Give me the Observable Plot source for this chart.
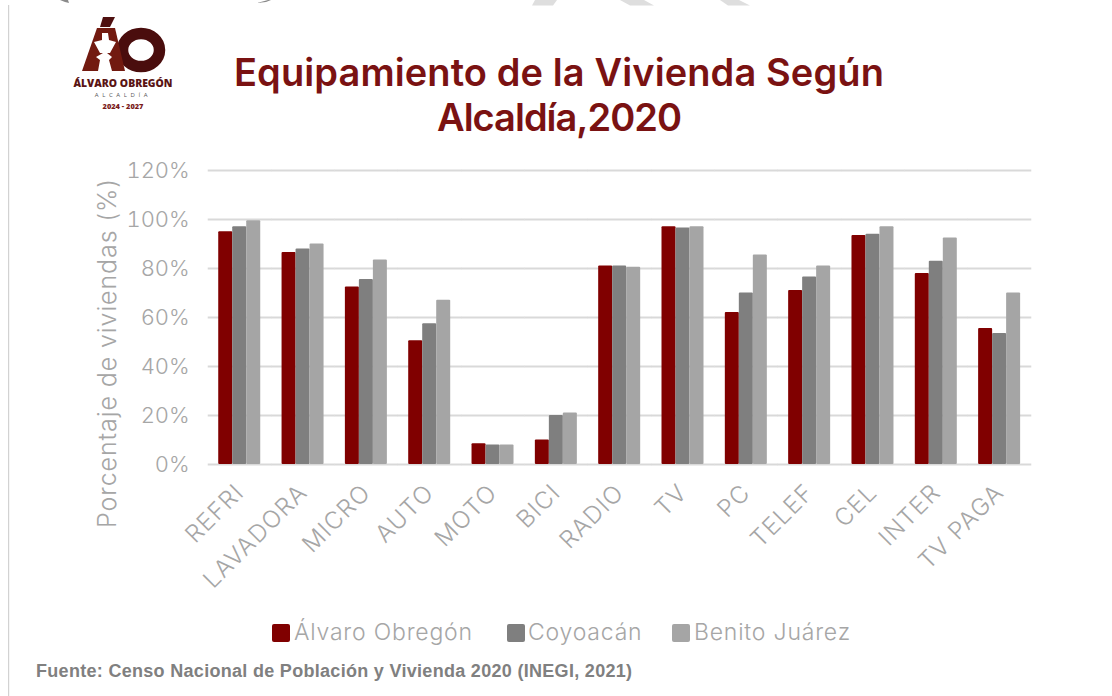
<!DOCTYPE html>
<html lang="es">
<head>
<meta charset="utf-8">
<script src="https://cdn.jsdelivr.net/npm/d3@7"></script>
<script src="https://cdn.jsdelivr.net/npm/@observablehq/plot@0.6"></script>
<style>
html,body{margin:0;padding:0;background:#fff;width:1112px;height:696px;overflow:hidden}
#page{position:relative;width:1112px;height:696px;font-family:Inter,"Open Sans",sans-serif}
#page>*{position:absolute}
#chart{left:0;top:0}
#deco{left:0;top:0}
.t{white-space:nowrap;line-height:1}
#title{left:159px;width:800px;top:50px;text-align:center;color:#7a1212;font-size:38px;font-weight:600;line-height:45px;letter-spacing:.1px}
#title span{letter-spacing:-1px}
#ylab{left:107px;top:353px;transform:translate(-50%,-50%) rotate(-90deg);font-size:25px;font-weight:300;color:#a6a6a6;letter-spacing:.9px}
.leg{color:#a6a6a6;font-size:23px;font-weight:300;top:621px;letter-spacing:.8px}
.sw{width:18px;height:18px;top:624px;border-radius:2px}
#src{left:36px;top:661px;font:bold 18px "Liberation Sans",Arial,sans-serif;color:#808080;letter-spacing:.3px}
.logo{left:123px;transform:translateX(-50%);font-family:"Open Sans",sans-serif;font-weight:800}
#chart g[aria-label="fx-axis tick label"] text{letter-spacing:1.2px}
</style>
</head>
<body>
<div id="page">
<div id="chart"></div>
<svg id="deco" width="1112" height="696" aria-hidden="true">
  <rect x="8" y="5" width="1.2" height="691" fill="#d2d2d2"/>
  <path d="M60 0h8l1 3-4-1zM257 3l11-3h3l-5 2z" fill="#8a8a8a"/>
  <path d="M535 0h22l-4 5.5h-21zM620 0h24l10 5.5h-24zM720 0h19l11 5.5h-22z" fill="#dedede"/>
  <ellipse cx="141" cy="50" rx="18.5" ry="16.5" fill="none" stroke="#4a0d0d" stroke-width="11.5"/>
  <path d="M100 27l3-10h12l-5 10z" fill="#4f1010"/>
  <path d="M82 71l15-43h18l10 43z" fill="#721a10"/>
  <path d="M102 33h6l1 7 7 2-6 11h-3l5 4-3 3 3 11h-14l2-11-4-3 7-4h-3l-6-11 8-2z" fill="#fff"/>
</svg>
<div class="t logo" style="top:78px;font-size:10.4px;color:#5a1414">ÁLVARO OBREGÓN</div>
<div class="t logo" style="top:92px;font-size:6px;font-weight:500;color:#555;letter-spacing:3.6px">ALCALDÍA</div>
<div class="t logo" style="top:103px;font-size:7.4px;color:#7a1a1a">2024 - 2027</div>
<div class="t" id="title">Equipamiento de la Vivienda Según<br><span>Alcaldía,2020</span></div>
<div class="t" id="ylab">Porcentaje de viviendas (%)</div>
<div id="legend"></div>
<div class="t" id="src">Fuente: Censo Nacional de Población y Vivienda 2020 (INEGI, 2021)</div>
</div>
<script>
const categories = ["REFRI","LAVADORA","MICRO","AUTO","MOTO","BICI","RADIO","TV","PC","TELEF","CEL","INTER","TV PAGA"];
const seriesNames = ["Álvaro Obregón","Coyoacán","Benito Juárez"];
const seriesColors = ["#800000","#7f7f7f","#a5a5a5"];
const alvaroObregon = [95,86.5,72.5,50.5,8.5,10,81,97,62,71,93.5,78,55.5];
const coyoacan = [97,88,75.5,57.5,8,20,81,96.5,70,76.5,94,83,53.5];
const benitoJuarez = [99.5,90,83.5,67,8,21,80.5,97,85.5,81,97,92.5,70];
const yTicks = [0,20,40,60,80,100,120];

const table = [alvaroObregon,coyoacan,benitoJuarez].flatMap((vals,s)=>
  vals.map((v,i)=>({cat:categories[i],serie:seriesNames[s],value:v})));

const labelColor = "#a6a6a6";
const plot = Plot.plot({
  width:1112,height:696,
  marginLeft:209,marginRight:82,marginTop:170,marginBottom:232,
  style:{fontFamily:"Inter, 'Open Sans', sans-serif",background:"transparent"},
  fx:{domain:categories,paddingInner:0.295,paddingOuter:0.13,round:false,label:null},
  x:{domain:seriesNames,padding:0,axis:null},
  y:{domain:[0,120],label:null},
  color:{domain:seriesNames,range:seriesColors},
  marks:[
    Plot.ruleY(yTicks,{stroke:"#d9d9d9",strokeWidth:2,insetLeft:-9.5,insetRight:-9.5}),
    Plot.barY(table,{fx:"cat",x:"serie",y:"value",fill:"serie",rx:1}),
    Plot.axisY({ticks:yTicks,tickSize:0,tickPadding:28,tickFormat:d=>d+"%",fontSize:22,fontWeight:300,color:labelColor,label:null}),
    Plot.axisFx({anchor:"bottom",tickSize:0,tickPadding:24,tickRotate:-45,fontSize:24,fontWeight:300,color:labelColor,label:null})
  ]
});
document.getElementById("chart").append(plot);

const legendLayout = [[272,294],[507,528],[672,694]];
const legend = document.getElementById("legend");
seriesNames.forEach((n,i)=>{
  const sw=document.createElement("div");
  sw.className="sw";sw.style.cssText=`position:absolute;left:${legendLayout[i][0]}px;background:${seriesColors[i]}`;
  const tx=document.createElement("div");
  tx.className="t leg";tx.style.cssText=`position:absolute;left:${legendLayout[i][1]}px`;tx.textContent=n;
  legend.append(sw,tx);
});
</script>
</body>
</html>
